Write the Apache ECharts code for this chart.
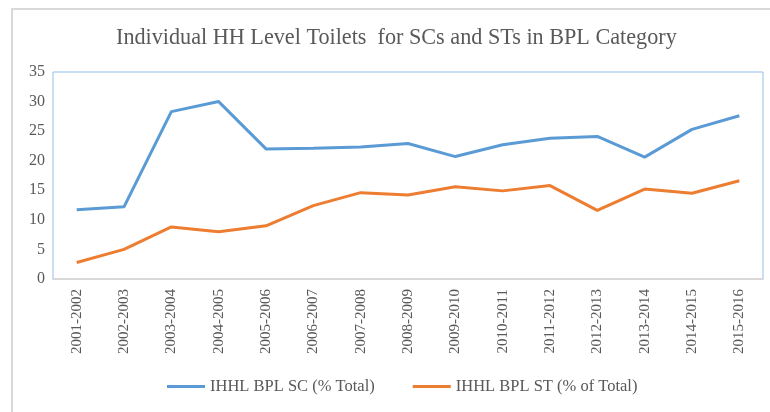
<!DOCTYPE html>
<html>
<head>
<meta charset="utf-8">
<script src="https://cdn.jsdelivr.net/npm/echarts@6/dist/echarts.min.js"></script>
<style>
  html, body { margin: 0; padding: 0; background: #fff; }
  #frame { position: absolute; left: 11px; top: 8px; width: 770px; height: 420px;
           border-left: 2px solid #d9d9d9; border-top: 2px solid #d9d9d9; }
  #main { position: absolute; left: 0; top: 0; width: 770px; height: 412px; }
</style>
</head>
<body>
<div id="frame"></div>
<div id="main"></div>
<script>
var years = ["2001-2002", "2002-2003", "2003-2004", "2004-2005", "2005-2006",
  "2006-2007", "2007-2008", "2008-2009", "2009-2010", "2010-2011",
  "2011-2012", "2012-2013", "2013-2014", "2014-2015", "2015-2016"];
var scShare = [11.7, 12.2, 28.3, 30.0, 22.0, 22.1, 22.3, 22.9, 20.7, 22.7, 23.8, 24.1, 20.6, 25.3, 27.6];
var stShare = [2.8, 5.0, 8.8, 8.0, 9.0, 12.4, 14.6, 14.2, 15.6, 14.9, 15.8, 11.6, 15.2, 14.5, 16.6];

var serif = "'Liberation Serif', 'Times New Roman', serif";
var textGrey = "#595959";

var chart = echarts.init(document.getElementById('main'));

var option = {
  animation: false,
  title: {
    text: "Individual HH Level Toilets  for SCs and STs in BPL Category",
    left: 111,
    top: 22,
    textStyle: { fontFamily: serif, fontSize: 22.2, fontWeight: 'normal', color: textGrey }
  },
  legend: {
    bottom: 12,
    left: 162,
    itemWidth: 38,
    itemHeight: 3,
    itemGap: 38,
    itemTextGap: 4,
    icon: 'rect',
    textStyle: { fontFamily: serif, fontSize: 16.5, color: textGrey },
    data: ["IHHL BPL SC (% Total)", "IHHL BPL ST (% of Total)"]
  },
  grid: {
    left: 53, right: 7, top: 72, bottom: 133,
    show: true, borderColor: '#8fbde8', borderWidth: 1
  },
  xAxis: {
    type: 'category',
    data: years,
    boundaryGap: true,
    axisLine: { lineStyle: { color: '#d9d9d9', width: 2 } },
    axisTick: { show: false },
    axisLabel: {
      rotate: 90, interval: 0, margin: 10,
      fontFamily: serif, fontSize: 15, color: textGrey
    }
  },
  yAxis: {
    type: 'value',
    min: 0, max: 35, interval: 5,
    splitLine: { show: false },
    axisLine: { show: false },
    axisTick: { show: false },
    axisLabel: { fontFamily: serif, fontSize: 16, color: textGrey, margin: 8 }
  },
  series: [
    {
      name: "IHHL BPL SC (% Total)",
      type: 'line',
      data: scShare,
      symbol: 'none',
      color: '#5b9bd5',
      lineStyle: { width: 3, color: '#5b9bd5' }
    },
    {
      name: "IHHL BPL ST (% of Total)",
      type: 'line',
      data: stShare,
      symbol: 'none',
      color: '#ed7d31',
      lineStyle: { width: 3, color: '#ed7d31' }
    }
  ]
};

chart.setOption(option);
</script>
</body>
</html>
